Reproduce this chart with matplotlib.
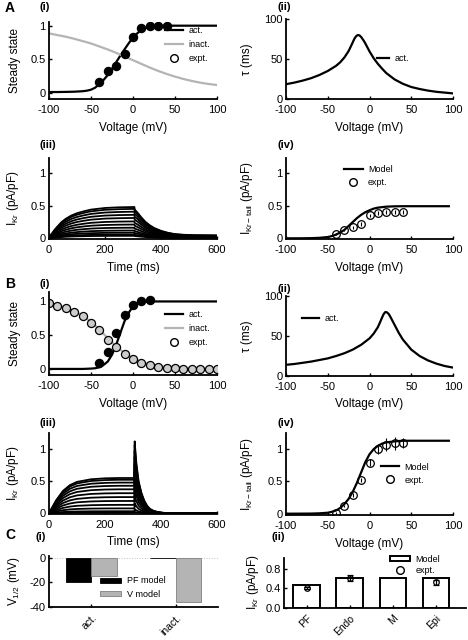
import matplotlib
matplotlib.use('Agg')
import matplotlib.pyplot as plt
import numpy as np
from matplotlib.lines import Line2D

plt.rcParams['font.family'] = ['Liberation Sans', 'DejaVu Sans']
plt.rcParams['mathtext.fontset'] = 'custom'
plt.rcParams['mathtext.rm'] = 'Liberation Sans'
plt.rcParams['mathtext.it'] = 'Liberation Sans'
plt.rcParams['axes.unicode_minus'] = False

# ---------------- data ----------------
# A(i) steady state
a1_v = [-100, -90, -80, -70, -60, -55, -50, -45, -40, -35, -30, -25, -20, -15, -10, -5, 0, 5, 10, 15, 20, 30, 100]
a1_act = [0.01, 0.01, 0.012, 0.015, 0.022, 0.03, 0.045, 0.075, 0.13, 0.19, 0.265, 0.355, 0.455, 0.555, 0.648, 0.74, 0.82, 0.885, 0.935, 0.965, 0.985, 1.0, 1.0]
a1_inact_v = [-100, -90, -80, -70, -60, -50, -40, -30, -20, -10, 0, 10, 20, 30, 40, 50, 60, 70, 80, 90, 100]
a1_inact = [0.885, 0.86, 0.835, 0.805, 0.77, 0.735, 0.69, 0.645, 0.595, 0.54, 0.485, 0.43, 0.375, 0.325, 0.28, 0.24, 0.205, 0.175, 0.15, 0.13, 0.115]
a1_expt_v = [-40, -30, -20, -10, 0, 10, 20, 30, 40]
a1_expt = [0.154, 0.33, 0.40, 0.58, 0.83, 0.97, 0.995, 1.0, 1.0]

# A(ii) time constant
a2_v = [-100, -90, -80, -70, -60, -50, -40, -35, -30, -25, -22, -20, -18, -16, -14, -12, -10, -7, -5, -2, 0, 5, 10, 15, 20, 30, 40, 50, 60, 70, 80, 90, 100]
a2_tau = [18.5, 20.5, 23, 26, 30, 35, 41.5, 46, 52, 60, 66.5, 71, 75.5, 78.5, 80, 79.5, 77.5, 73, 69.5, 63.5, 59.5, 51, 44, 38, 32.5, 24.5, 19, 15, 12.5, 10.5, 9, 8, 7]

# A(iii) current traces: top trace shape and relative amplitudes
a3_t = [0, 10, 20, 30, 45, 60, 80, 100, 125, 150, 200, 250, 305, 306, 315, 330, 345, 360, 375, 400, 425, 450, 480, 520, 600]
a3_top = [0.03, 0.07, 0.13, 0.18, 0.25, 0.30, 0.35, 0.385, 0.415, 0.44, 0.465, 0.475, 0.48, 0.44, 0.40, 0.32, 0.25, 0.20, 0.16, 0.115, 0.085, 0.065, 0.055, 0.048, 0.045]
a3_amps = [1.0, 0.94, 0.85, 0.75, 0.65, 0.54, 0.44, 0.34, 0.25, 0.18, 0.12, 0.08]

# A(iv) tail current
a4_v = [-100, -80, -70, -60, -50, -45, -40, -35, -30, -25, -20, -15, -10, -5, 0, 5, 10, 20, 30, 40, 60, 95]
a4_model = [0.0, 0.001, 0.003, 0.008, 0.02, 0.035, 0.058, 0.09, 0.13, 0.19, 0.25, 0.31, 0.36, 0.40, 0.43, 0.455, 0.47, 0.485, 0.49, 0.492, 0.492, 0.492]
a4_expt_v = [-40, -30, -20, -10, 0, 10, 20, 30, 40]
a4_expt = [0.065, 0.13, 0.17, 0.215, 0.35, 0.39, 0.41, 0.41, 0.41]
a4_err = [0.02, 0.02, 0.025, 0.03, 0.03, 0.03, 0.03, 0.03, 0.03]

# B(i) steady state
b1_v = [-100, -60, -50, -45, -40, -35, -30, -25, -20, -15, -10, -5, 0, 5, 10, 20, 100]
b1_act = [0.0, 0.0, 0.005, 0.01, 0.025, 0.06, 0.11, 0.21, 0.36, 0.535, 0.71, 0.835, 0.925, 0.965, 0.985, 1.0, 1.0]
b1_inact_v = [-100, -90, -80, -70, -60, -50, -40, -30, -20, -10, 0, 10, 20, 30, 40, 50, 60, 70, 80, 90, 100]
b1_inact = [0.975, 0.945, 0.905, 0.855, 0.79, 0.70, 0.585, 0.455, 0.335, 0.235, 0.16, 0.105, 0.07, 0.045, 0.03, 0.02, 0.013, 0.009, 0.006, 0.004, 0.003]
b1_act_expt_v = [-40, -30, -20, -10, 0, 10, 20]
b1_act_expt = [0.085, 0.25, 0.535, 0.795, 0.945, 1.01, 1.02]
b1_inact_expt = [0.97, 0.935, 0.90, 0.85, 0.785, 0.685, 0.57, 0.435, 0.32, 0.22, 0.15, 0.095, 0.06, 0.035, 0.02, 0.01, 0.005, 0.005, 0.0, 0.0, 0.0]

# B(ii) time constant
b2_v = [-100, -90, -80, -70, -60, -50, -40, -30, -20, -10, 0, 5, 10, 13, 15, 17, 19, 21, 23, 25, 28, 30, 35, 40, 50, 60, 70, 80, 90, 100]
b2_tau = [14, 15, 16.5, 18, 20, 22, 25, 28.5, 33, 39, 47, 53, 61, 68, 73, 77.5, 80, 79.5, 77.5, 74, 68, 64, 54, 45.5, 33, 25, 19.5, 15.5, 12.5, 10.5]

# B(iii) current traces
b3_t = [0, 5, 10, 25, 50, 75, 100, 150, 200, 250, 305, 306, 308, 312, 320, 330, 340, 350, 360, 375, 400, 450, 600]
b3_top = [0.0, 0.04, 0.08, 0.2, 0.35, 0.44, 0.49, 0.53, 0.545, 0.55, 0.55, 1.12, 1.0, 0.78, 0.5, 0.32, 0.2, 0.12, 0.07, 0.035, 0.01, 0.0, 0.0]
b3_amps = [1.0, 0.95, 0.87, 0.78, 0.68, 0.57, 0.46, 0.35, 0.24, 0.14, 0.06, 0.02]

# B(iv) tail current
b4_v = [-100, -70, -60, -50, -45, -40, -35, -30, -25, -20, -15, -10, -5, 0, 5, 10, 15, 20, 30, 40, 95]
b4_model = [0.0, 0.002, 0.006, 0.015, 0.03, 0.05, 0.09, 0.15, 0.23, 0.34, 0.48, 0.64, 0.80, 0.92, 1.0, 1.05, 1.085, 1.105, 1.12, 1.13, 1.13]
b4_expt_v = [-40, -30, -20, -10, 0, 10, 20, 30, 40]
b4_expt = [0.01, 0.12, 0.29, 0.52, 0.79, 1.0, 1.07, 1.09, 1.09]
b4_err = [0.01, 0.02, 0.03, 0.03, 0.05, 0.08, 0.1, 0.1, 0.08]

# C(i) half-activation voltages
c1_labels = ['act.', 'inact.']
c1_pf = [-20, -0.5]
c1_v = [-15, -36]

# C(ii) current density
c2_labels = ['PF', 'Endo', 'M', 'Epi']
c2_model = [0.47, 0.60, 0.60, 0.60]
c2_expt_pos = [1, 2, 4]
c2_expt = [0.41, 0.61, 0.52]
c2_err = [0.02, 0.06, 0.05]

# ---------------- layout ----------------
W, H = 468, 640
fig = plt.figure(figsize=(W / 100, H / 100), dpi=100)
GRAY = '#b4b4b4'
FS_TICK = 8
FS_LAB = 8.5
FS_LEG = 6.5


def px_axes(x0, x1, y0, y1):
    return fig.add_axes([x0 / W, 1 - y1 / H, (x1 - x0) / W, (y1 - y0) / H])


def style(ax):
    for s in ['top', 'right']:
        ax.spines[s].set_visible(False)
    for s in ['left', 'bottom']:
        ax.spines[s].set_linewidth(1.3)
    ax.tick_params(direction='in', length=2.5, width=1, labelsize=FS_TICK)
    ax.tick_params(axis='x', pad=4)
    ax.tick_params(axis='y', pad=2.5)
    ax.patch.set_alpha(0)


def label(x, y, s, size=8, ha='left'):
    fig.text(x / W, 1 - y / H, s, fontsize=size, fontweight='bold', va='center', ha=ha)


def legend(ax, handles, labels, x, y, **kw):
    opts = dict(frameon=False, fontsize=FS_LEG, loc='upper left', bbox_to_anchor=(x, y),
                borderpad=0, borderaxespad=0, handlelength=2.0, handletextpad=0.6,
                labelspacing=0.55)
    opts.update(kw)
    ax.legend(handles, labels, **opts)


def volt_axis(ax):
    ax.set_xlim(-100, 100)
    ax.set_xticks([-100, -50, 0, 50, 100])
    ax.set_xlabel('Voltage (mV)', fontsize=FS_LAB, labelpad=5)


def unit_y(ax):
    ax.set_yticks([0, 0.5, 1])
    ax.set_yticklabels(['0', '0.5', '1'])


open_circ = Line2D([], [], ls='none', marker='o', mfc='white', mec='k', ms=5.5, mew=1)
LX0, LX1 = 49, 217
RX0, RX1 = 286, 453

# A(i)
ax = px_axes(LX0, LX1, 22, 99)
style(ax)
h1, = ax.plot(a1_v, a1_act, 'k', lw=1.6)
h2, = ax.plot(a1_inact_v, a1_inact, color=GRAY, lw=1.6)
ax.plot(a1_expt_v, a1_expt, 'o', color='k', ms=5.8)
volt_axis(ax)
ax.set_ylim(-0.094, 1.055)
unit_y(ax)
ax.set_ylabel('Steady state', fontsize=FS_LAB, labelpad=7)
legend(ax, [h1, h2, open_circ], ['act.', 'inact.', 'expt.'], 0.69, 0.95)

# A(ii)
ax = px_axes(RX0, RX1, 19, 99)
style(ax)
h, = ax.plot(a2_v, a2_tau, 'k', lw=1.6)
volt_axis(ax)
ax.set_ylim(0, 100)
ax.set_yticks([0, 50, 100])
ax.set_ylabel('τ (ms)', fontsize=FS_LAB, labelpad=8)
legend(ax, [h], ['act.'], 0.545, 0.56, handlelength=1.3)

# A(iii)
ax = px_axes(LX0, LX1, 158, 239)
style(ax)
for amp in a3_amps:
    ax.plot(a3_t, amp * np.array(a3_top), 'k', lw=1.3)
ax.set_xlim(0, 600)
ax.set_ylim(-0.01, 1.23)
ax.set_xticks([0, 200, 400, 600])
unit_y(ax)
ax.set_xlabel('Time (ms)', fontsize=FS_LAB, labelpad=5)
ax.set_ylabel('I$_{Kr}$ (pA/pF)', fontsize=FS_LAB, labelpad=7)

# A(iv)
ax = px_axes(RX0, RX1, 158, 239)
style(ax)
h, = ax.plot(a4_v, a4_model, 'k', lw=1.6)
ax.errorbar(a4_expt_v, a4_expt, yerr=a4_err, fmt='o', mfc='none', mec='k', ecolor='k',
            ms=5.5, mew=0.9, elinewidth=0.8, capsize=0)
volt_axis(ax)
ax.set_ylim(-0.01, 1.23)
unit_y(ax)
ax.set_ylabel('I$_{Kr - tail}$ (pA/pF)', fontsize=FS_LAB, labelpad=9)
legend(ax, [h, open_circ], ['Model', 'expt.'], 0.35, 0.91, labelspacing=0.45)

# B(i)
ax = px_axes(LX0, LX1, 292, 375)
style(ax)
h1, = ax.plot(b1_v, b1_act, 'k', lw=1.6)
h2, = ax.plot(b1_inact_v, b1_inact, color=GRAY, lw=1.6)
ax.plot(b1_inact_v, b1_inact_expt, 'o', mfc='#cccccc', mec='k', ms=5.8, mew=0.9)
ax.plot(b1_act_expt_v, b1_act_expt, 'o', color='k', ms=5.8)
volt_axis(ax)
ax.set_ylim(-0.09, 1.14)
unit_y(ax)
ax.set_ylabel('Steady state', fontsize=FS_LAB, labelpad=7)
legend(ax, [h1, h2, open_circ], ['act.', 'inact.', 'expt.'], 0.69, 0.78)

# B(ii)
ax = px_axes(RX0, RX1, 296, 376)
style(ax)
h, = ax.plot(b2_v, b2_tau, 'k', lw=1.6)
volt_axis(ax)
ax.set_ylim(0, 100)
ax.set_yticks([0, 50, 100])
ax.set_ylabel('τ (ms)', fontsize=FS_LAB, labelpad=8)
legend(ax, [h], ['act.'], 0.095, 0.77, handlelength=1.9)

# B(iii)
ax = px_axes(LX0, LX1, 433, 514)
style(ax)
for amp in b3_amps:
    ax.plot(b3_t, amp * np.array(b3_top), 'k', lw=1.3)
ax.set_xlim(0, 600)
ax.set_ylim(-0.01, 1.25)
ax.set_xticks([0, 200, 400, 600])
unit_y(ax)
ax.set_xlabel('Time (ms)', fontsize=FS_LAB, labelpad=5)
ax.set_ylabel('I$_{Kr}$ (pA/pF)', fontsize=FS_LAB, labelpad=7)

# B(iv)
ax = px_axes(RX0, RX1, 433, 515)
style(ax)
h, = ax.plot(b4_v, b4_model, 'k', lw=1.6)
ax.errorbar(b4_expt_v, b4_expt, yerr=b4_err, fmt='o', mfc='none', mec='k', ecolor='k',
            ms=5.5, mew=0.9, elinewidth=0.8, capsize=0)
volt_axis(ax)
ax.set_ylim(-0.02, 1.25)
unit_y(ax)
ax.set_ylabel('I$_{Kr - tail}$ (pA/pF)', fontsize=FS_LAB, labelpad=9)
legend(ax, [h, open_circ], ['Model', 'expt.'], 0.57, 0.64, labelspacing=0.45)

# C(i)
ax = px_axes(LX0, 218, 556, 607)
style(ax)
xc = np.arange(1, len(c1_labels) + 1)
ax.axhline(0, color='0.75', lw=0.7, ls=':', zorder=0)
b1 = ax.bar(xc - 0.15, c1_pf, 0.3, color='k', edgecolor='k', lw=0.6)
b2 = ax.bar(xc + 0.15, c1_v, 0.3, color=GRAY, edgecolor='#808080', lw=0.6)
ax.set_xlim(0.5, 2.5)
ax.set_ylim(-40, 1.5)
ax.set_yticks([-40, -20, 0])
ax.set_xticks(xc)
ax.set_xticklabels(c1_labels, rotation=45, ha='right', rotation_mode='anchor', fontsize=7.5)
ax.set_ylabel('V$_{1/2}$ (mV)', fontsize=FS_LAB, labelpad=5)
legend(ax, [b1, b2], ['PF model', 'V model'], 0.3, 0.6, handlelength=2.4, handleheight=0.5,
       labelspacing=0.5)

# C(ii)
ax = px_axes(284, 466, 557.5, 607.5)
style(ax)
xc = np.arange(1, len(c2_labels) + 1)
bm = ax.bar(xc, c2_model, 0.62, color='white', edgecolor='k', lw=1.4)
ax.errorbar(c2_expt_pos, c2_expt, yerr=c2_err, fmt='o', mfc='none', mec='k', ecolor='k',
            ms=4, mew=0.9, elinewidth=0.9, capsize=2, capthick=0.9)
ax.set_xlim(0.47, 4.7)
ax.set_ylim(0, 1.03)
ax.set_yticks([0, 0.4, 0.8])
ax.set_yticklabels(['0.0', '0.4', '0.8'])
ax.set_xticks(xc)
ax.set_xticklabels(c2_labels, rotation=45, ha='right', rotation_mode='anchor', fontsize=7.5)
ax.set_ylabel('I$_{Kr}$ (pA/pF)', fontsize=FS_LAB, labelpad=3)
legend(ax, [bm, open_circ], ['Model', 'expt.'], 0.58, 1.06, handlelength=2.3,
       handleheight=0.55, labelspacing=0.3)

# panel labels
label(5, 8, 'A', size=10)
label(5, 284, 'B', size=10)
label(5, 535, 'C', size=10)
label(40, 7, '(i)')
label(277, 7, '(ii)')
label(40, 145, '(iii)')
label(277, 145, '(iv)')
label(40, 284, '(i)')
label(277, 289, '(ii)')
label(40, 423, '(iii)')
label(277, 423, '(iv)')
label(36, 537, '(i)')
label(272, 537, '(ii)')

fig.savefig('out.png', dpi=100)
